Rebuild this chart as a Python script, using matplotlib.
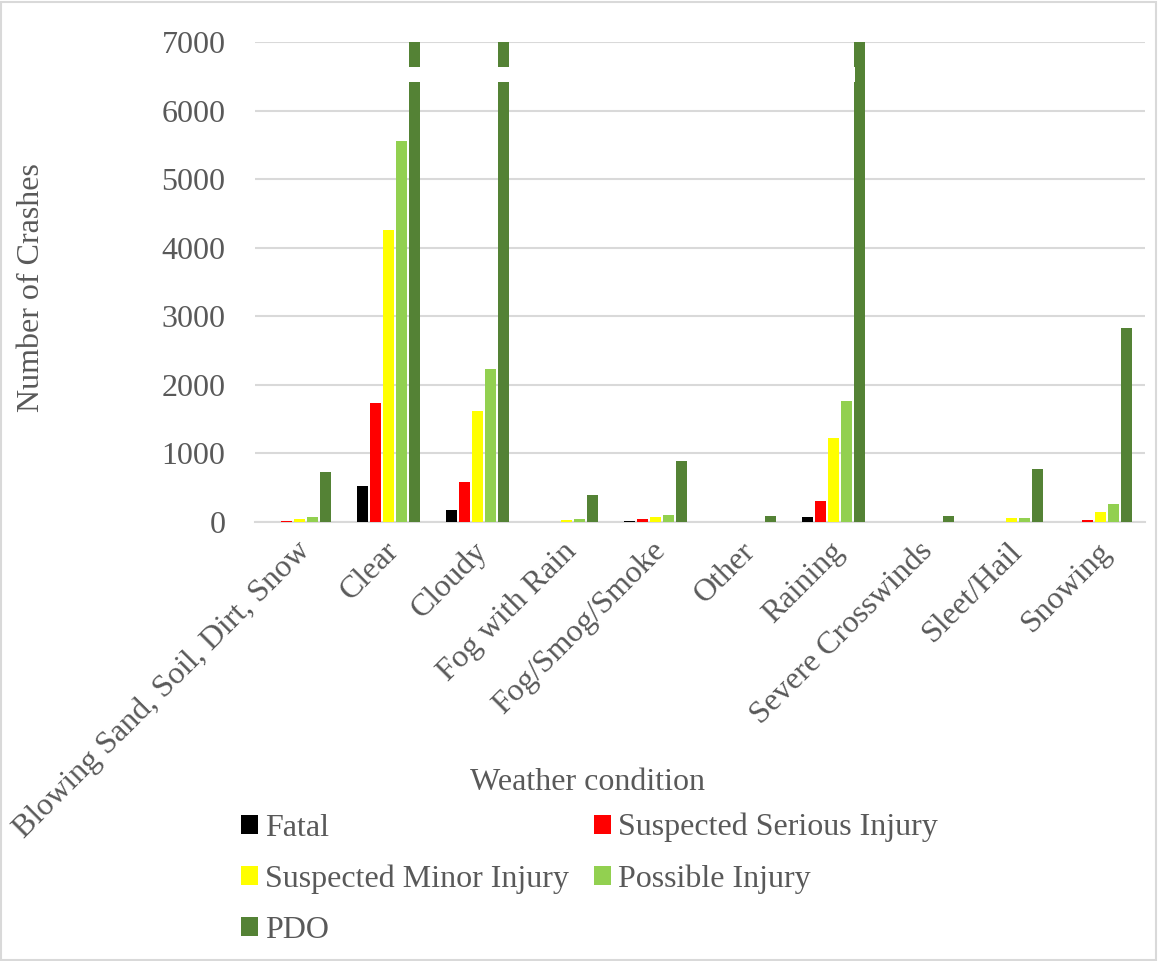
import matplotlib
matplotlib.use("Agg")
import matplotlib.pyplot as plt
import matplotlib.transforms as mtransforms
import numpy as np
from matplotlib.patches import Rectangle

categories = ["Blowing Sand, Soil, Dirt, Snow", "Clear", "Cloudy", "Fog with Rain",
              "Fog/Smog/Smoke", "Other", "Raining", "Severe Crosswinds", "Sleet/Hail", "Snowing"]
series_names = ["Fatal", "Suspected Serious Injury", "Suspected Minor Injury", "Possible Injury", "PDO"]
fatal = [0, 525, 175, 0, 5, 0, 77, 0, 0, 0]
serious = [5, 1740, 588, 0, 35, 0, 306, 0, 3, 29]
minor = [44, 4260, 1620, 30, 73, 2, 1225, 2, 54, 146]
possible = [65, 5560, 2230, 44, 102, 3, 1770, 3, 56, 258]
# PDO for Clear, Cloudy, Raining exceed the axis maximum (clipped at 7000)
pdo = [730, 7000, 7000, 389, 890, 83, 7000, 92, 773, 2825]
colors = ["#000000", "#FF0000", "#FFFF00", "#92D050", "#548235"]
yticks = [0, 1000, 2000, 3000, 4000, 5000, 6000, 7000]

plt.rcParams['font.family'] = ['Liberation Serif', 'DejaVu Serif']
FS = 23
GRAY = "#595959"

fig = plt.figure(figsize=(11.58, 9.61), dpi=100)
ax = fig.add_axes([0.220, 0.457, 0.769, 0.499])

data = [fatal, serious, minor, possible, pdo]
x = np.arange(len(categories))
pitch = 0.147
width = 0.125
bars = []
for i, (vals, c, name) in enumerate(zip(data, colors, series_names)):
    b = ax.bar(x + (i - 2) * pitch, vals, width, color=c, label=name, zorder=3)
    bars.append(b)

# break marks on clipped PDO bars
for idx in [1, 2]:
    ax.add_patch(Rectangle((x[idx] + 2 * pitch - width / 2 - 0.01, 6421), width + 0.02, 220,
                           facecolor="white", edgecolor="none", zorder=4))
ax.add_patch(Rectangle((x[6] + 2 * pitch - width / 2 - 0.003, 6421), 0.012, 220,
                       facecolor="white", edgecolor="none", zorder=4))

ax.set_xlim(-0.5, len(categories) - 0.5)
ax.set_ylim(0, 7000)
ax.set_yticks(yticks)
ax.set_yticklabels([str(v) for v in yticks])
ax.yaxis.grid(True, color="#d9d9d9", linewidth=1.5, zorder=0)
ax.set_axisbelow(True)
for s in ["top", "right", "left"]:
    ax.spines[s].set_visible(False)
ax.spines["bottom"].set_color("#d9d9d9")
ax.spines["bottom"].set_linewidth(1.5)
ax.tick_params(axis="y", length=0, pad=21, labelsize=FS, labelcolor=GRAY)
ax.tick_params(axis="x", length=0, pad=18, labelsize=FS, labelcolor=GRAY)
ax.set_xticks(x)
ax.set_xticklabels(categories, rotation=45, ha="right", va="center", rotation_mode="anchor")
offset = mtransforms.ScaledTranslation(6 / 100, 0, fig.dpi_scale_trans)
for lbl in ax.get_xticklabels():
    lbl.set_transform(lbl.get_transform() + offset)

fig.text(32 / 1158, 1 - 288 / 961, "Number of Crashes", fontsize=FS, color=GRAY,
         rotation=90, ha="center", va="center")
fig.text(588 / 1158, 1 - 782 / 961, "Weather condition", fontsize=FS, color=GRAY,
         ha="center", va="center")

order = [0, 2, 4, 1, 3]
leg = fig.legend([bars[i] for i in order], [series_names[i] for i in order],
                 loc="upper left", bbox_to_anchor=(241 / 1158, 1 - 813 / 961), ncol=2, frameon=False,
                 fontsize=FS, handlelength=0.52, handleheight=0.55, handletextpad=0.22,
                 columnspacing=0.8, labelspacing=0.69, borderpad=0, borderaxespad=0,
                 labelcolor=GRAY)

fig.patches.append(Rectangle((0.001, 0.001), 0.997, 0.997, transform=fig.transFigure,
                             fill=False, edgecolor="#d9d9d9", linewidth=1.5))

fig.savefig("out.png", dpi=100)
